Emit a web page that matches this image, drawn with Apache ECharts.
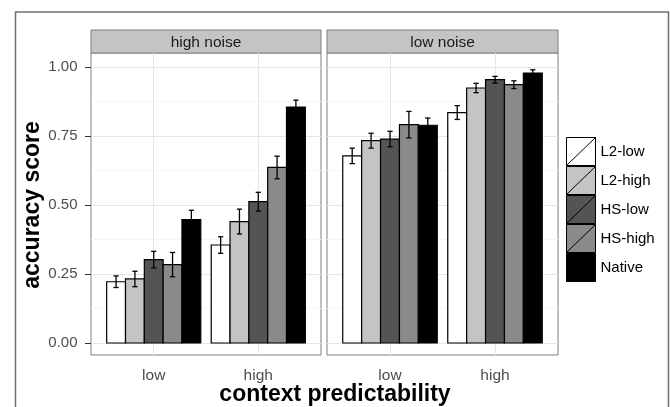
<!DOCTYPE html>
<html>
<head>
<meta charset="utf-8">
<script src="https://cdn.jsdelivr.net/npm/echarts@6/dist/echarts.min.js"></script>
<style>html,body{margin:0;padding:0;background:#fff;}#c{width:670px;height:407px;}</style>
</head>
<body>
<div id="c"></div>
<script>
// ---- data ----
const panels = ['high noise', 'low noise'];
const groups = ['low', 'high'];
const seriesNames = ['L2-low', 'L2-high', 'HS-low', 'HS-high', 'Native'];
const yTicks = [0, 0.25, 0.5, 0.75, 1];
// mean accuracy: [high noise/low, high noise/high, low noise/low, low noise/high]
const meanL2low  = [0.222, 0.355, 0.678, 0.835];
const meanL2high = [0.232, 0.440, 0.733, 0.924];
const meanHSlow  = [0.302, 0.512, 0.739, 0.954];
const meanHShigh = [0.284, 0.636, 0.791, 0.936];
const meanNative = [0.447, 0.855, 0.789, 0.978];
// error bar half-lengths
const errL2low  = [0.021, 0.030, 0.028, 0.025];
const errL2high = [0.028, 0.045, 0.027, 0.017];
const errHSlow  = [0.030, 0.034, 0.028, 0.012];
const errHShigh = [0.044, 0.041, 0.048, 0.014];
const errNative = [0.034, 0.025, 0.026, 0.012];

const means = [meanL2low, meanL2high, meanHSlow, meanHShigh, meanNative];
const errs = [errL2low, errL2high, errHSlow, errHShigh, errNative];
const fills = ['#ffffff', '#c4c4c4', '#545454', '#8a8a8a', '#000000'];
const FONT = '"Liberation Sans", Arial, Helvetica, sans-serif';

const chart = echarts.init(document.getElementById('c'), null, {renderer: 'canvas'});

const panelBox = [
  {left: 91, width: 230},
  {left: 327, width: 231}
];

function makeRender(s) {
  const nS = seriesNames.length;
  const dodge = 0.9 / nS;
  const off = (s - (nS - 1) / 2) * dodge;
  return function (params, api) {
    const x = api.value(0) + off;
    const v = api.value(1);
    const e = api.value(2);
    const a = api.coord([x - dodge / 2, 0]);
    const b = api.coord([x + dodge / 2, v]);
    const lo = api.coord([x, v - e]);
    const hi = api.coord([x, v + e]);
    const cap = api.size([0.025, 0])[0];
    return {
      type: 'group',
      children: [
        {type: 'rect', shape: {x: a[0], y: b[1], width: b[0] - a[0], height: a[1] - b[1]},
         style: {fill: fills[s], stroke: '#000', lineWidth: 1.2}},
        {type: 'line', shape: {x1: lo[0], y1: lo[1], x2: hi[0], y2: hi[1]},
         style: {stroke: '#000', lineWidth: 1.3}},
        {type: 'line', shape: {x1: lo[0] - cap, y1: lo[1], x2: lo[0] + cap, y2: lo[1]},
         style: {stroke: '#000', lineWidth: 1.3}},
        {type: 'line', shape: {x1: hi[0] - cap, y1: hi[1], x2: hi[0] + cap, y2: hi[1]},
         style: {stroke: '#000', lineWidth: 1.3}}
      ]
    };
  };
}

const grids = [], xAxes = [], yAxes = [], series = [];
panels.forEach((p, pi) => {
  grids.push({left: panelBox[pi].left, width: panelBox[pi].width, top: 67, height: 276,
              containLabel: false, z: 1});
  xAxes.push({
    type: 'value', gridIndex: pi, min: 0.4, max: 2.6, offset: 12,
    axisLine: {show: false},
    axisTick: {show: true, length: 6, customValues: [1, 2], lineStyle: {color: '#333', width: 1}},
    axisLabel: {show: true, customValues: [1, 2], margin: 13, color: '#4d4d4d', fontSize: 15.5,
                fontFamily: FONT, formatter: v => groups[Math.round(v) - 1]},
    splitLine: {show: false}
  });
  yAxes.push({
    type: 'value', gridIndex: pi, min: 0, max: 1, interval: 0.25,
    axisLine: {show: false},
    axisTick: {show: pi === 0, length: 6, lineStyle: {color: '#333', width: 1}},
    axisLabel: {show: pi === 0, margin: 13.5, color: '#4d4d4d', fontSize: 15, fontFamily: FONT,
                formatter: v => v.toFixed(2)},
    splitLine: {show: true, lineStyle: {color: '#e6e6e6', width: 1}},
    minorTick: {show: false, splitNumber: 2},
    minorSplitLine: {show: true, lineStyle: {color: '#f5f5f5', width: 1}},
    name: pi === 0 ? 'accuracy score' : '',
    nameLocation: 'middle', nameGap: 44, nameRotate: 90,
    nameTextStyle: {fontSize: 23, fontWeight: 'bold', color: '#000', fontFamily: FONT}
  });
  seriesNames.forEach((name, s) => {
    series.push({
      type: 'custom', name: name, xAxisIndex: pi, yAxisIndex: pi,
      renderItem: makeRender(s),
      itemStyle: {color: fills[s], borderColor: '#000', borderWidth: 1},
      data: groups.map((g, gi) => [gi + 1, means[s][pi * 2 + gi], errs[s][pi * 2 + gi]]),
      encode: {x: 0, y: 1},
      z: 3
    });
  });
});
// frame + strip grids (decoration), with hidden axes for the vertical grid lines
panels.forEach((p, pi) => {
  const fIdx = grids.length;
  grids.push({left: panelBox[pi].left, width: panelBox[pi].width, top: 53, height: 302,
              show: true, backgroundColor: '#fff', borderColor: '#7f7f7f', borderWidth: 1, z: -1});
  xAxes.push({type: 'value', gridIndex: fIdx, min: 0.4, max: 2.6, show: false});
  yAxes.push({type: 'value', gridIndex: fIdx, min: 0, max: 1, show: false});
  series.push({
    type: 'custom', name: 'grid-' + pi, xAxisIndex: xAxes.length - 1, yAxisIndex: yAxes.length - 1,
    renderItem: () => null, data: [], silent: true, z: 1,
    markLine: {
      silent: true, symbol: 'none', z: 1, label: {show: false}, animation: false,
      lineStyle: {color: '#e6e6e6', width: 1, type: 'solid'},
      data: groups.map((g, gi) => ({xAxis: gi + 1}))
    }
  });
  grids.push({left: panelBox[pi].left, width: panelBox[pi].width, top: 30, height: 23,
              show: true, backgroundColor: '#c4c4c4', borderColor: '#7f7f7f', borderWidth: 1, z: 1});
});

const graphics = [
  {type: 'rect', shape: {x: 15.5, y: 12, width: 653, height: 420}, silent: true,
   style: {fill: 'none', stroke: '#707070', lineWidth: 1.5}, z: 10},
  {type: 'text', x: 335, y: 395, silent: true,
   style: {text: 'context predictability', fontSize: 23, fontWeight: 'bold', fill: '#000',
           fontFamily: FONT, align: 'center', verticalAlign: 'middle'}}
];
panels.forEach((p, pi) => {
  graphics.push({type: 'text', x: panelBox[pi].left + panelBox[pi].width / 2, y: 43, silent: true, z: 10,
    style: {text: p, fontSize: 15.5, fill: '#1a1a1a', fontFamily: FONT, align: 'center', verticalAlign: 'middle'}});
});

chart.setOption({
  animation: false,
  backgroundColor: '#fff',
  grid: grids,
  xAxis: xAxes,
  yAxis: yAxes,
  legend: {
    orient: 'vertical', left: 566, top: 137, itemWidth: 29, itemHeight: 28.5, itemGap: 0,
    padding: 0, selectedMode: false,
    icon: 'path://M0,0L29,0L29,28L0,28Z M0,28L29,0',
    itemStyle: {borderColor: '#000', borderWidth: 1},
    textStyle: {fontSize: 15, color: '#000', fontFamily: FONT},
    data: seriesNames
  },
  graphic: graphics,
  series: series
});
</script>
</body>
</html>
